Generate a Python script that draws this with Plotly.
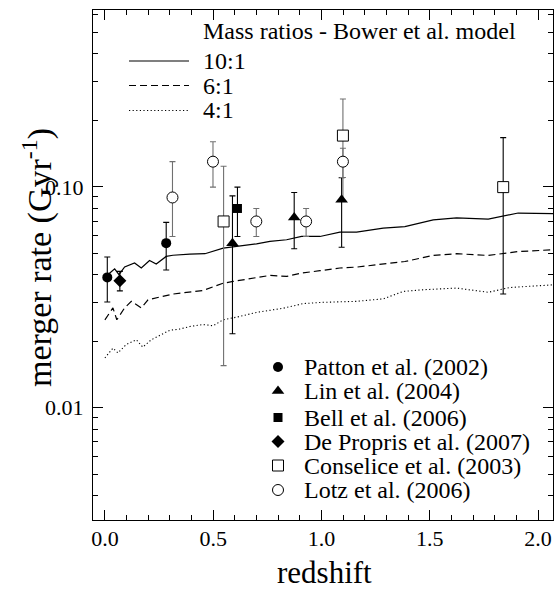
import math
import plotly.graph_objects as go

# ---------------- data ----------------
# Bower et al. model merger rates (Gyr^-1) vs redshift
z_10to1 = [0.02, 0.045, 0.065, 0.091, 0.137, 0.168, 0.206, 0.237, 0.283, 0.314, 0.392, 0.462,
           0.546, 0.592, 0.700, 0.762, 0.839, 0.908, 0.993, 1.085, 1.162, 1.285, 1.385, 1.516,
           1.624, 1.770, 1.908, 2.07]
rate_10to1 = [0.0405, 0.0425, 0.0400, 0.0434, 0.0452, 0.0429, 0.0464, 0.0447, 0.0484, 0.0490,
              0.0496, 0.0498, 0.0528, 0.0534, 0.0552, 0.0566, 0.0576, 0.0596, 0.0596, 0.0624,
              0.0624, 0.0650, 0.0661, 0.0709, 0.0724, 0.0714, 0.0761, 0.0757]

z_6to1 = [0.0, 0.037, 0.055, 0.091, 0.122, 0.168, 0.199, 0.268, 0.314, 0.452, 0.546, 0.592,
          0.700, 0.762, 0.839, 0.908, 0.993, 1.085, 1.162, 1.285, 1.385, 1.516, 1.624, 1.770,
          1.908, 2.07]
rate_6to1 = [0.0250, 0.0283, 0.0250, 0.0283, 0.0303, 0.0283, 0.0308, 0.0319, 0.0327, 0.0339,
             0.0366, 0.0373, 0.0387, 0.0397, 0.0393, 0.0407, 0.0417, 0.0429, 0.0433, 0.0447,
             0.0459, 0.0489, 0.0498, 0.0489, 0.0509, 0.0519]

z_4to1 = [0.0, 0.037, 0.060, 0.098, 0.145, 0.175, 0.214, 0.299, 0.345, 0.392, 0.452, 0.500,
          0.546, 0.608, 0.700, 0.823, 0.916, 1.008, 1.162, 1.285, 1.377, 1.470, 1.624, 1.770,
          1.870, 2.07]
rate_4to1 = [0.0168, 0.0186, 0.0177, 0.0193, 0.0203, 0.0188, 0.0203, 0.0224, 0.0227, 0.0233,
             0.0238, 0.0235, 0.0250, 0.0257, 0.0270, 0.0282, 0.0296, 0.0300, 0.0303, 0.0311,
             0.0336, 0.0342, 0.0348, 0.0333, 0.0350, 0.0360]

model_names = ["10:1", "6:1", "4:1"]
model_title = "Mass ratios - Bower et al. model"

# Observations: redshift, rate, upper and lower error-bar ends
patton_z = [0.011, 0.283]
patton_r = [0.0389, 0.0556]
patton_hi = [0.0481, 0.069]
patton_lo = [0.0301, 0.042]

lin_z = [0.589, 0.874, 1.093]
lin_r = [0.0556, 0.0726, 0.0874]
lin_hi = [0.091, 0.0942, 0.11]
lin_lo = [0.0216, 0.0524, 0.0533]

bell_z = [0.612]
bell_r = [0.0798]
bell_hi = [0.0997]
bell_lo = [0.0596]

depropris_z = [0.069]
depropris_r = [0.0376]
depropris_hi = [0.0414]
depropris_lo = [0.0338]

conselice_z = [0.548, 1.099, 1.839]
conselice_r = [0.0697, 0.1706, 0.0997]
conselice_hi = [0.124, 0.25, 0.167]
conselice_lo = [0.0155, 0.087, 0.0327]
conselice_errcol = ["#707070", "#707070", "black"]

lotz_z = [0.312, 0.499, 0.699, 0.929, 1.099]
lotz_r = [0.0895, 0.130, 0.0697, 0.0697, 0.130]
lotz_hi = [0.130, 0.160, 0.0798, 0.0798, 0.1496]
lotz_lo = [0.0596, 0.0997, 0.0596, 0.0596, 0.1102]
lotz_errcol = ["#707070"] * 5

obs_names = ["Patton et al. (2002)", "Lin et al. (2004)", "Bell et al. (2006)",
             "De Propris et al. (2007)", "Conselice et al. (2003)", "Lotz et al. (2006)"]

x_ticks = [0.0, 0.5, 1.0, 1.5, 2.0]
x_ticktext = ["0.0", "0.5", "1.0", "1.5", "2.0"]
y_ticks = [0.01, 0.1]
y_ticktext = ["0.01", "0.10"]

# ---------------- styles / layout ----------------
FONT = "Liberation Serif, Times New Roman, Times, serif"
W, H = 555, 591
L, R, T, B = 93, 553, 10, 520           # plot-area edges in pixels
XR = [-0.055, 2.069]
YR = [math.log10(0.0031), math.log10(0.632)]

line_styles = [dict(color="black", width=1.2, dash="solid"),
               dict(color="black", width=1.2, dash="7px,4px"),
               dict(color="black", width=1.1, dash="1.2px,2.4px")]
obs_styles = [
    dict(symbol="circle", size=10, color="black", line=dict(width=0)),
    dict(symbol="triangle-up", size=11, color="black", line=dict(width=0)),
    dict(symbol="square", size=9, color="black", line=dict(width=0)),
    dict(symbol="diamond", size=10, color="black", line=dict(width=0)),
    dict(symbol="square", size=11, color="white", line=dict(width=1, color="black")),
    dict(symbol="circle", size=11, color="white", line=dict(width=1, color="black")),
]


def px_to_x(px):
    return XR[0] + (px - L) / (R - L) * (XR[1] - XR[0])


def px_to_y(py):
    return 10 ** (YR[1] - (py - T) / (B - T) * (YR[1] - YR[0]))


def paper_x(px):
    return (px - L) / (R - L)


def paper_y(py):
    return (B - py) / (B - T)


fig = go.Figure()

# model curves
for zz, rr, st, nm in zip([z_10to1, z_6to1, z_4to1], [rate_10to1, rate_6to1, rate_4to1],
                          line_styles, model_names):
    fig.add_trace(go.Scatter(x=zz, y=rr, mode="lines", line=st, name=nm,
                             showlegend=False, hoverinfo="skip"))

obs = [
    (patton_z, patton_r, patton_hi, patton_lo, ["black"] * len(patton_z)),
    (lin_z, lin_r, lin_hi, lin_lo, ["black"] * len(lin_z)),
    (bell_z, bell_r, bell_hi, bell_lo, ["black"] * len(bell_z)),
    (depropris_z, depropris_r, depropris_hi, depropris_lo, ["black"] * len(depropris_z)),
    (conselice_z, conselice_r, conselice_hi, conselice_lo, conselice_errcol),
    (lotz_z, lotz_r, lotz_hi, lotz_lo, lotz_errcol),
]

# error bars
for zz, rr, hi, lo, cols in obs:
    for col in sorted(set(cols)):
        idx = [i for i, c in enumerate(cols) if c == col]
        fig.add_trace(go.Scatter(
            x=[zz[i] for i in idx], y=[rr[i] for i in idx], mode="markers",
            marker=dict(size=1, opacity=0), showlegend=False, hoverinfo="skip",
            error_y=dict(type="data", symmetric=False,
                         array=[hi[i] - rr[i] for i in idx],
                         arrayminus=[rr[i] - lo[i] for i in idx],
                         color=col, thickness=1.1, width=3)))

# markers
for (zz, rr, hi, lo, cols), st, nm in zip(obs, obs_styles, obs_names):
    fig.add_trace(go.Scatter(x=zz, y=rr, mode="markers", marker=st, name=nm,
                             showlegend=False))

# ---------------- legend keys ----------------
leg_line_y = [61, 85.5, 110.5]
for y0, st in zip(leg_line_y, line_styles):
    fig.add_trace(go.Scatter(x=[px_to_x(129), px_to_x(189)], y=[px_to_y(y0), px_to_y(y0)],
                             mode="lines", line=st, showlegend=False, hoverinfo="skip"))
annots = [dict(x=201, y=31.5, text=model_title)]
for y0, nm in zip(leg_line_y, model_names):
    annots.append(dict(x=201, y=y0, text=nm))

leg_obs_y = [367, 391, 417.5, 441.5, 465.5, 490]
for y0, st in zip(leg_obs_y, obs_styles):
    fig.add_trace(go.Scatter(x=[px_to_x(278)], y=[px_to_y(y0)], mode="markers", marker=st,
                             showlegend=False, hoverinfo="skip"))
for y0, nm in zip(leg_obs_y, obs_names):
    annots.append(dict(x=302, y=y0, text=nm))

annotations = []
for a in annots:
    annotations.append(dict(x=paper_x(a["x"]), y=paper_y(a["y"]), text=a["text"],
                            xref="paper", yref="paper",
                            xanchor="left", yanchor="middle", showarrow=False,
                            font=dict(family=FONT, size=24, color="black")))
# axis titles
annotations.append(dict(x=paper_x(324), y=paper_y(592), text="redshift",
                        xref="paper", yref="paper",
                        xanchor="center", yanchor="bottom", showarrow=False,
                        font=dict(family=FONT, size=31, color="black")))
annotations.append(dict(x=paper_x(37), y=paper_y(258), text="merger rate (Gyr<sup>-1</sup>)",
                        xref="paper", yref="paper",
                        xanchor="center", yanchor="middle", showarrow=False, textangle=-90,
                        font=dict(family=FONT, size=34, color="black")))

x_minor = [round(0.1 * k, 1) for k in range(0, 21) if k % 5 != 0]
y_minor = [k * 0.001 for k in range(4, 10)] + [k * 0.01 for k in range(2, 10)] + \
          [k * 0.1 for k in range(2, 7)]

axis_common = dict(showline=True, linecolor="black", linewidth=1.2, mirror="allticks",
                   ticks="inside", ticklen=10, tickwidth=1, tickcolor="black",
                   showgrid=False, zeroline=False,
                   tickfont=dict(family=FONT, size=22, color="black"))

fig.update_layout(
    width=W, height=H,
    margin=dict(l=L, r=W - R, t=T, b=H - B, pad=0),
    paper_bgcolor="white", plot_bgcolor="white",
    showlegend=False,
    xaxis=dict(range=XR, tickvals=x_ticks, ticktext=x_ticktext,
               ticklabelstandoff=-2,
               minor=dict(tickvals=x_minor, ticks="inside", ticklen=5, tickcolor="black",
                          showgrid=False),
               **axis_common),
    yaxis=dict(type="log", range=YR,
               tickvals=y_ticks, ticktext=y_ticktext, ticklabelstandoff=4,
               minor=dict(tickvals=y_minor, ticks="inside", ticklen=5, tickcolor="black",
                          showgrid=False),
               **axis_common),
    annotations=annotations,
)

fig.write_html("out.html", config={"displayModeBar": False},
               post_script="document.body.style.margin='0px';document.body.style.overflow='hidden';")
